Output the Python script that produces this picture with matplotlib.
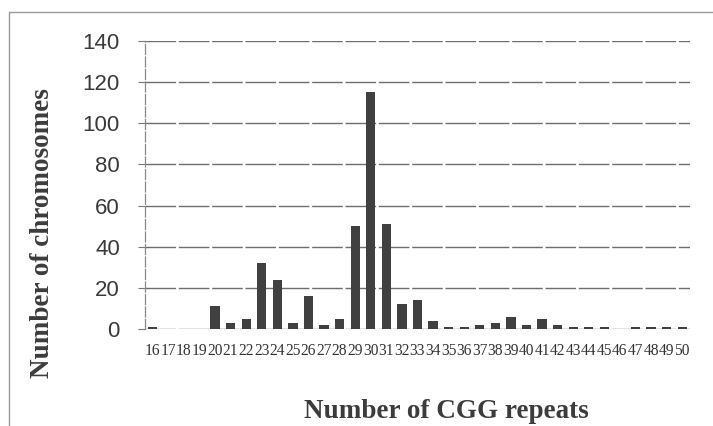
import matplotlib
matplotlib.use("Agg")
import matplotlib.pyplot as plt
from matplotlib.patches import Rectangle

# CGG repeat counts vs number of chromosomes
repeats = list(range(16, 51))
counts = [1, 0, 0, 0, 11, 3, 5, 32, 24, 3, 16, 2, 5, 50, 115, 51, 12, 14, 4, 1,
          1, 2, 3, 6, 2, 5, 2, 1, 1, 1, 0, 1, 1, 1, 1]
yticks = [0, 20, 40, 60, 80, 100, 120, 140]

W, H = 713, 426
fig = plt.figure(figsize=(W / 100, H / 100), dpi=100)
fig.patch.set_facecolor("white")

# outer chart frame (scanned, faint)
fig.patches.append(Rectangle((9 / W, -0.05), 1.05, 1 - 12 / H + 0.05, transform=fig.transFigure,
                             fill=False, edgecolor="#9a9a9a", linewidth=1.0))

ax = fig.add_axes([145 / W, 1 - 329 / H, (690 - 145) / W, (329 - 41) / H])
x = list(range(len(repeats)))
ax.bar(x, counts, width=0.6, color="#404040", zorder=3)

ax.set_xlim(-0.5, len(repeats) - 0.5)
ax.set_ylim(0, 140)
ax.set_yticks(yticks)
ax.set_yticklabels([str(v) for v in yticks], fontsize=16, color="#3a3a3a",
                   family="Liberation Sans")
ax.set_xticks(x)
ax.set_xticklabels([str(r) for r in repeats], fontsize=11.2, color="#333333",
                   family="Liberation Serif")
ax.tick_params(axis="x", length=0, pad=10)
ax.tick_params(axis="y", length=5, width=0.8, color="#777777", pad=13)

for v in yticks:
    ax.axhline(v, color="#6e6e6e", linewidth=1.0, linestyle=(0, (22, 2)), zorder=1)

for s in ["top", "right", "bottom"]:
    ax.spines[s].set_visible(False)
ax.spines["left"].set_color("#8a8a8a")
ax.spines["left"].set_linestyle((0, (8, 2)))
ax.spines["left"].set_linewidth(0.9)

fig.text(43 / W, 1 - 233 / H, "Number of chromosomes", rotation=90, ha="center", va="center",
         fontsize=19.5, fontweight="bold", family="Liberation Serif", color="#3c3c3c")
fig.text(446 / W, 1 - 418 / H, "Number of CGG repeats", ha="center", va="baseline",
         fontsize=19.5, fontweight="bold", family="Liberation Serif", color="#3c3c3c")

fig.savefig("out.png", dpi=100)
